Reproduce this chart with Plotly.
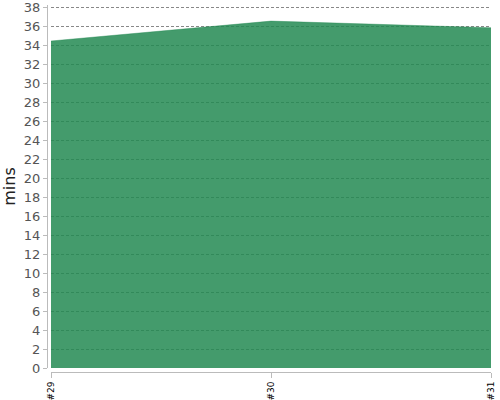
import plotly.graph_objects as go

categories = ["#29", "#30", "#31"]
values = [34.5, 36.6, 35.9]
y_ticks = list(range(0, 39, 2))

x_idx = list(range(len(categories)))

fig = go.Figure()
fig.add_trace(go.Scatter(
    x=x_idx, y=values, mode="lines", fill="tozeroy",
    line=dict(color="rgba(35,137,82,0.85)", width=0.5),
    fillcolor="rgba(35,137,82,0.85)", hoverinfo="skip", showlegend=False,
))

fig.update_layout(
    width=500, height=400,
    margin=dict(l=47, r=9, t=5, b=28, autoexpand=False),
    paper_bgcolor="white", plot_bgcolor="white",
    font=dict(family="DejaVu Sans, sans-serif"),
    xaxis=dict(
        domain=[4/444, 1], range=[0, 2], anchor="free", position=0,
        automargin=False,
        tickmode="array", tickvals=x_idx, ticktext=categories,
        tickangle=-90, tickfont=dict(size=9, color="#000"),
        showline=True, linecolor="#bbb", linewidth=1,
        ticks="outside", ticklen=5, tickcolor="#bbb",
        showgrid=False, zeroline=False,
    ),
    yaxis=dict(
        domain=[4/367, 1], range=[0, 38.3], anchor="free", position=0,
        automargin=False,
        tickmode="array", tickvals=y_ticks, ticktext=[str(v) for v in y_ticks],
        tickfont=dict(size=13, color="#555"),
        showline=True, linecolor="#bbb", linewidth=1,
        ticks="outside", ticklen=4, tickcolor="#bbb",
        showgrid=True, gridcolor="#888", griddash="3px,2px", gridwidth=0.8,
        zeroline=False,
        title=dict(text="mins", font=dict(size=16, color="#222"), standoff=6),
    ),
)

fig.write_html(
    "out.html",
    config={"displayModeBar": False},
    post_script="document.body.style.margin='0';document.body.style.overflow='hidden';",
)
